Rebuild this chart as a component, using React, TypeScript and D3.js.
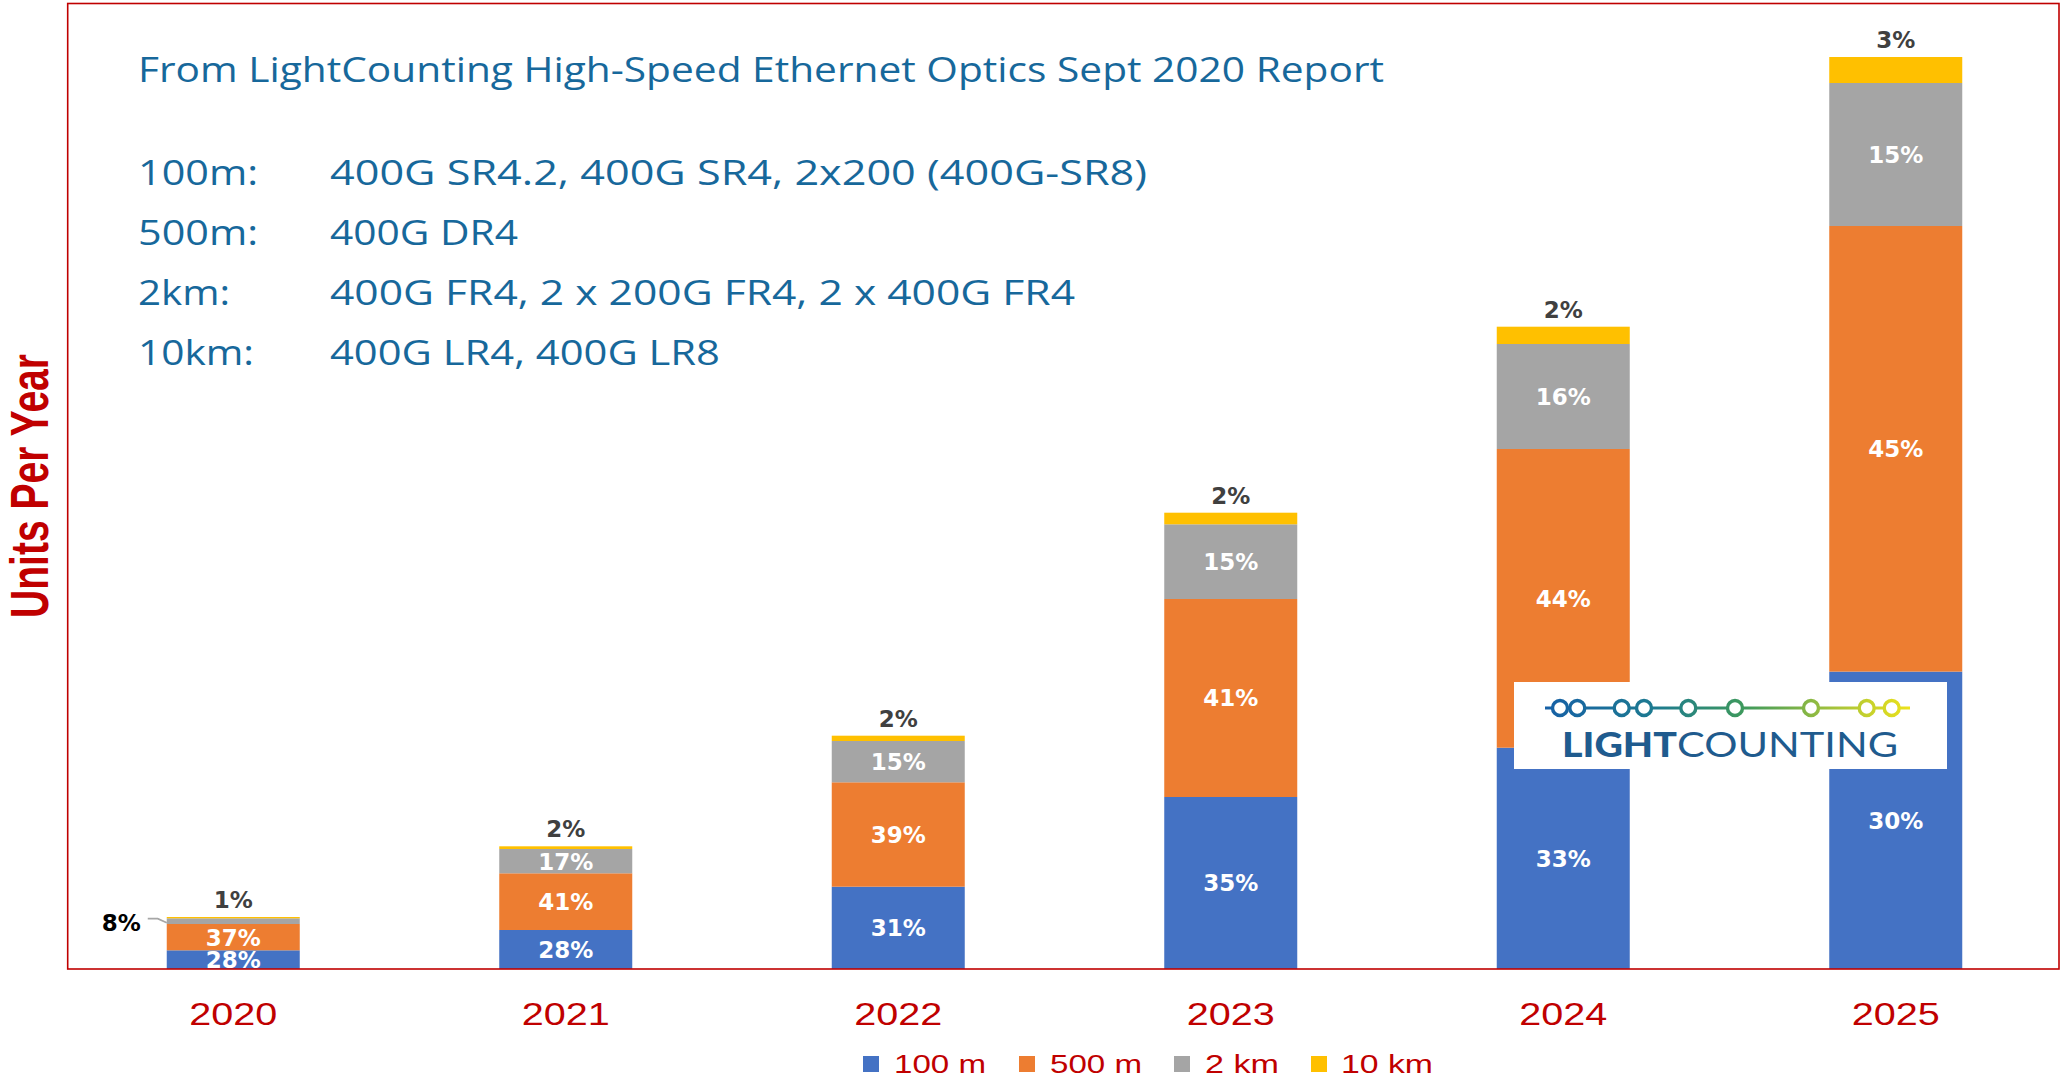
import React from 'react';
import * as d3 from 'd3';

// ---------- data ----------
const years = ['2020', '2021', '2022', '2023', '2024', '2025'];
const seriesKeys = ['m100', 'm500', 'km2', 'km10'];
const seriesNames = ['100 m', '500 m', '2 km', '10 km'];
const seriesColors = ['#4472C4', '#ED7D31', '#A5A5A5', '#FFC000'];

// units per year (relative)
const units100m = [187, 390, 823, 1720, 2213, 2974];
const units500m = [263, 567, 1044, 1980, 2987, 4456];
const units2km = [57, 243, 413, 747, 1050, 1430];
const units10km = [13, 27, 53, 116, 173, 260];

// share labels as printed on the chart
const labels100m = ['28%', '28%', '31%', '35%', '33%', '30%'];
const labels500m = ['37%', '41%', '39%', '41%', '44%', '45%'];
const labels2km = ['8%', '17%', '15%', '15%', '16%', '15%'];
const labels10km = ['1%', '2%', '2%', '2%', '2%', '3%'];

const titleText = 'From LightCounting High-Speed Ethernet Optics Sept 2020 Report';
const reachNames = ['100m:', '500m:', '2km:', '10km:'];
const reachModules = [
  '400G SR4.2, 400G SR4, 2x200 (400G-SR8)',
  '400G DR4',
  '400G FR4, 2 x 200G FR4, 2 x 400G FR4',
  '400G LR4, 400G LR8',
];
const yAxisTitle = 'Units Per Year';

// ---------- layout ----------
const W = 2061;
const H = 1081;
const PLOT_L = 67.7;
const PLOT_R = 2059;
const PLOT_T = 3.5;
const BASE = 969;

const table = years.map((yr, i) => ({
  year: yr,
  m100: units100m[i],
  m500: units500m[i],
  km2: units2km[i],
  km10: units10km[i],
}));
const labelTable = [labels100m, labels500m, labels2km, labels10km];

const x = d3.scaleBand<string>().domain(years).range([67, 2062]).paddingInner(0.6).paddingOuter(0.3);
const y = d3.scaleLinear().domain([0, 9650]).range([BASE, 4]);
const stacked = d3.stack<any>().keys(seriesKeys)(table);

const titleColor = '#17689B';
const red = '#C00000';

const reachLabelW = [120, 120, 92, 116];
const reachModuleW = [817, 188, 745, 390];

const legendSquareX = [863, 1019, 1174, 1311];
const legendTextX = [894, 1050, 1205, 1341];
const legendTextW = [92, 92, 74, 92];

const logoDots = [1560, 1577.3, 1621.7, 1644, 1688.3, 1735, 1811, 1866.7, 1891.7];

export default function App() {
  React.useEffect(() => {
    document.body.style.margin = '0';
    document.body.style.overflow = 'hidden';
  }, []);

  const segs: any[] = [];
  const inLabels: any[] = [];
  const topLabels: any[] = [];
  const sideLabels: any[] = [];

  stacked.forEach((layer, si) => {
    layer.forEach((d, i) => {
      const yr = years[i];
      const x0 = x(yr)!;
      const bw = x.bandwidth();
      const y0 = y(d[1]);
      const y1 = y(d[0]);
      const h = y1 - y0;
      segs.push(
        <rect key={`s${si}-${i}`} x={x0} y={y0} width={bw} height={h} fill={seriesColors[si]} />
      );
      const lab = labelTable[si][i];
      const cx = x0 + bw / 2;
      if (si === 3) {
        topLabels.push(
          <text key={`t${i}`} x={cx} y={y0 - 9} textAnchor="middle" fill="#404040"
            fontFamily="DejaVu Sans" fontWeight="bold" fontSize={23}>{lab}</text>
        );
      } else if (h < 15) {
        const my = (y0 + y1) / 2;
        sideLabels.push(
          <g key={`sl${si}-${i}`}>
            <path d={`M${x0 - 19},${my - 2.5} L${x0 - 9},${my - 2.5} L${x0},${my + 1.5}`}
              fill="none" stroke="#A6A6A6" strokeWidth={1.6} />
            <text x={x0 - 26} y={my + 10} textAnchor="end" fill="#000"
              fontFamily="DejaVu Sans" fontWeight="bold" fontSize={23}>{lab}</text>
          </g>
        );
      } else {
        const my = (y0 + y1) / 2;
        inLabels.push(
          <text key={`l${si}-${i}`} x={cx} y={my + 8.4} textAnchor="middle" fill="#FFFFFF"
            fontFamily="DejaVu Sans" fontWeight="bold" fontSize={23}>{lab}</text>
        );
      }
    });
  });

  return (
    <div style={{ position: 'absolute', left: 0, top: 0 }}>
      <svg width={W} height={H} viewBox={`0 0 ${W} ${H}`} style={{ display: 'block', background: '#fff' }}>
        <defs>
          <linearGradient id="lcGrad" gradientUnits="userSpaceOnUse" x1={1545} y1={0} x2={1910} y2={0}>
            <stop offset="0" stopColor="#1660A6" />
            <stop offset="0.3" stopColor="#1D7A90" />
            <stop offset="0.55" stopColor="#3F9A5C" />
            <stop offset="0.8" stopColor="#A8C43A" />
            <stop offset="1" stopColor="#EDE21A" />
          </linearGradient>
        </defs>

        {/* header text */}
        <text x={138} y={81.5} fill={titleColor} fontFamily="Open Sans" fontSize={35}
          textLength={1246} lengthAdjust="spacingAndGlyphs">{titleText}</text>
        {reachNames.map((r, i) => (
          <g key={`r${i}`}>
            <text x={138} y={185 + i * 60} fill={titleColor} fontFamily="Open Sans" fontSize={35}
              textLength={reachLabelW[i]} lengthAdjust="spacingAndGlyphs">{r}</text>
            <text x={330} y={185 + i * 60} fill={titleColor} fontFamily="Open Sans" fontSize={35}
              textLength={reachModuleW[i]} lengthAdjust="spacingAndGlyphs">{reachModules[i]}</text>
          </g>
        ))}

        {/* bars */}
        {segs}
        {inLabels}
        {topLabels}
        {sideLabels}

        {/* frame */}
        <rect x={PLOT_L} y={PLOT_T} width={PLOT_R - PLOT_L} height={BASE - PLOT_T}
          fill="none" stroke={red} strokeWidth={1.6} />

        {/* logo */}
        <rect x={1514} y={682} width={433} height={87} fill="#FFFFFF" />
        <line x1={1545} y1={708} x2={1910} y2={708} stroke="url(#lcGrad)" strokeWidth={3.2} />
        {logoDots.map((cx, i) => (
          <circle key={`dot${i}`} cx={cx} cy={708} r={7.5} fill="#FFFFFF" stroke="url(#lcGrad)" strokeWidth={3.4} />
        ))}
        <text x={1562} y={757} fill="#1F5B8E" fontFamily="Lato" fontWeight="900" fontSize={35}
          textLength={115} lengthAdjust="spacingAndGlyphs">LIGHT</text>
        <text x={1677} y={757} fill="#1F5B8E" fontFamily="Lato" fontWeight="normal" fontSize={35}
          textLength={221} lengthAdjust="spacingAndGlyphs">COUNTING</text>

        {/* x axis labels */}
        {years.map((yr) => (
          <text key={`y${yr}`} x={x(yr)! + x.bandwidth() / 2} y={1025} textAnchor="middle" fill={red}
            fontFamily="Liberation Sans" fontSize={32} textLength={88} lengthAdjust="spacingAndGlyphs">{yr}</text>
        ))}

        {/* y axis title */}
        <text transform="translate(48,486) rotate(-90)" textAnchor="middle" fill={red}
          fontFamily="Liberation Sans" fontWeight="bold" fontSize={53}
          textLength={264} lengthAdjust="spacingAndGlyphs">{yAxisTitle}</text>

        {/* legend */}
        {seriesNames.map((n, i) => (
          <g key={`lg${i}`}>
            <rect x={legendSquareX[i]} y={1056} width={16} height={16} fill={seriesColors[i]} />
            <text x={legendTextX[i]} y={1073} fill={red} fontFamily="Liberation Sans" fontSize={25}
              textLength={legendTextW[i]} lengthAdjust="spacingAndGlyphs">{n}</text>
          </g>
        ))}
      </svg>
    </div>
  );
}
